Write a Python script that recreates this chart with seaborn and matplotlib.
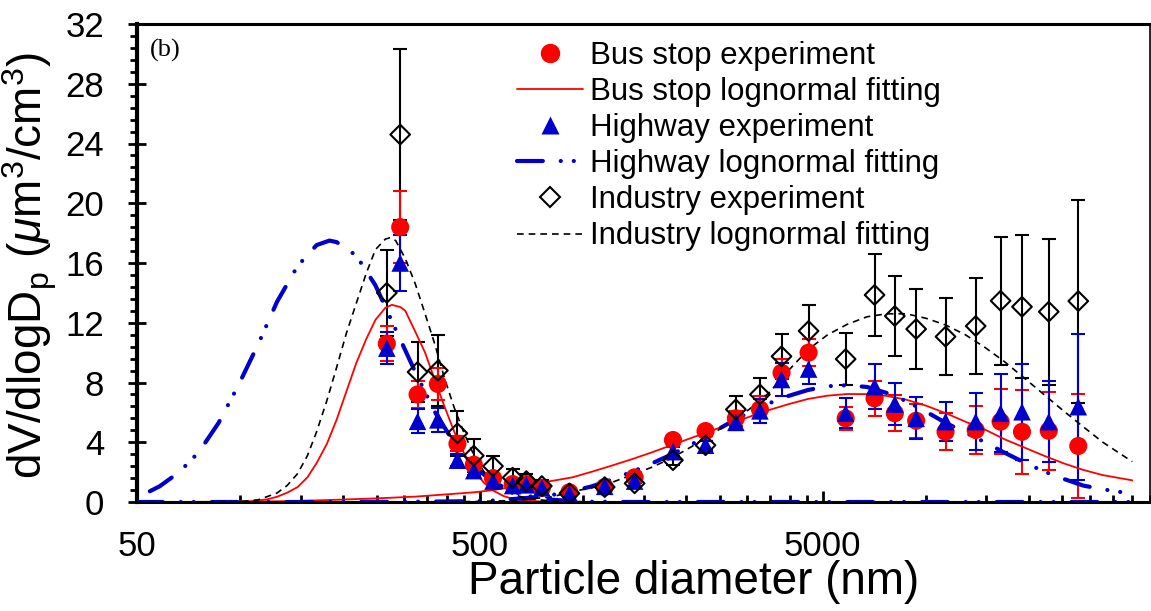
import numpy as np
import pandas as pd
import matplotlib
matplotlib.use("Agg")
import matplotlib.pyplot as plt
import seaborn as sns
from matplotlib.lines import Line2D
from matplotlib.ticker import NullFormatter

# ---------------- data ----------------
diam = [267.6, 292.8, 329, 377, 430, 480, 546, 623, 683, 758, 912, 1156, 1413,
        1828, 2275, 2789, 3278, 3790, 4545, 5830, 7079, 8110, 9360, 11400,
        13960, 16500, 19050, 22800, 27800]

bus = [10.6, 18.4, 7.2, 7.9, 3.9, 2.5, 1.6, 1.2, 1.2, 0.95, 0.65, 1.0, 1.65,
       4.15, 4.75, 5.6, 6.2, 8.65, 10.0, 5.6, 6.94, 5.94, 5.44, 4.7, 4.82,
       5.38, 4.7, 4.77, 3.75]
bus_err = [1.15, 2.4, 0.9, 1.1, 0.5, 0.4, 0.3, 0.25, 0.2, 0.2, 0.15, 0.15, 0.2,
           0.3, 0.3, 0.5, 0.9, 0.9, 0.9, 0.76, 1.15, 1.2, 1.15, 1.25, 1.6,
           2.2, 2.8, 2.6, 3.5]

hw = [10.3, 16.0, 5.4, 5.5, 2.8, 2.1, 1.4, 1.1, 1.15, 0.95, 0.55, 1.05, 1.4,
      3.37, 3.8, 5.33, 6.1, 8.2, 8.9, 5.94, 7.72, 6.56, 5.6, 5.38, 5.38,
      5.94, 6.04, 5.38, 6.38]
hw_err = [1.05, 1.9, 0.8, 0.8, 0.4, 0.3, 0.25, 0.2, 0.2, 0.15, 0.1, 0.1, 0.15,
          0.3, 0.3, 0.5, 0.8, 1.1, 1.0, 1.0, 1.5, 1.4, 1.4, 1.3, 1.9,
          2.6, 3.2, 2.7, 4.9]

ind = [14.0, 24.6, 8.7, 8.8, 4.6, 3.1, 2.4, 1.63, 1.4, 1.07, 0.58, 1.0, 1.25,
       2.8, 3.8, 6.2, 7.2, 9.75, 11.45, 9.57, 13.86, 12.45, 11.58, 11.07, 11.78,
       13.47, 13.07, 12.74, 13.45]
ind_err = [2.9, 5.7, 2.0, 2.4, 1.5, 1.1, 0.65, 0.58, 0.5, 0.4, 0.2, 0.2, 0.3,
           0.3, 0.3, 0.9, 1.07, 1.5, 1.75, 1.75, 2.75, 2.7, 2.7, 2.6, 3.2,
           4.3, 4.8, 4.9, 6.8]

# lognormal fitting curves (fine and coarse modes)
rf_x = [50, 98.7, 107, 120, 128, 137, 147, 157, 167, 179, 191, 204, 218, 233, 248,
        265, 277, 293, 303, 324, 346, 369, 394, 421, 450, 481, 513, 548, 586, 626,
        669, 763, 1061, 40000]
rf_y = [0, 0, 0.05, 0.18, 0.35, 0.62, 1.0, 1.65, 2.6, 3.9, 5.5, 7.4, 9.3, 10.9, 12.2,
        13.0, 13.2, 13.05, 12.8, 11.4, 10.0, 8.2, 6.4, 4.7, 3.25, 2.1, 1.3, 0.75, 0.4,
        0.2, 0.1, 0.03, 0, 0]
rc_x = [50, 75.8, 113, 147, 191, 248, 324, 421, 481, 548, 626, 714, 815, 930, 1061,
        1210, 1381, 1576, 1798, 2052, 2342, 2672, 3049, 3479, 3970, 4529, 5168, 5897,
        6729, 7678, 8762, 9998, 11407, 13016, 14853, 16947, 19338, 22066, 25178,
        28730, 32782, 39950]
rc_y = [0, 0.01, 0.03, 0.07, 0.15, 0.24, 0.36, 0.55, 0.65, 0.8, 1.02, 1.22, 1.42, 1.65,
        2.03, 2.43, 2.85, 3.3, 3.78, 4.26, 4.74, 5.2, 5.7, 6.15, 6.55, 6.9, 7.12, 7.23,
        7.22, 7.1, 6.85, 6.45, 5.95, 5.38, 4.85, 4.2, 3.65, 3.1, 2.59, 2.15, 1.8, 1.45]

hf_x = [54.5, 58.2, 66.4, 75.8, 86.5, 98.7, 113, 128, 147, 167, 182, 191, 218,
        248, 284, 324, 369, 421, 481, 548, 626, 714, 815, 930, 1061, 1381, 40000]
hf_y = [0.72, 1.05, 2.0, 3.35, 5.3, 7.8, 10.6, 13.4, 15.8, 17.2, 17.5, 17.4, 16.5,
        14.5, 11.55, 8.7, 6.05, 3.95, 2.37, 1.32, 0.69, 0.33, 0.15, 0.06, 0.02, 0, 0]
hc_x = [50, 147, 284, 421, 548, 714, 815, 930, 1061, 1210, 1381, 1576, 1798, 2052,
        2342, 2672, 3049, 3479, 3970, 4529, 5168, 5897, 6729, 7678, 8762, 9998, 11407,
        13016, 14853, 16947, 19338, 22066, 25178, 28730, 32782, 39950]
hc_y = [0, 0, 0.01, 0.04, 0.1, 0.3, 0.48, 0.72, 1.05, 1.5, 2.0, 2.55, 3.15, 3.8, 4.55,
        5.3, 6.0, 6.6, 7.1, 7.5, 7.75, 7.82, 7.7, 7.3, 6.75, 6.05, 5.3, 4.65, 4.0, 3.3,
        2.65, 2.05, 1.55, 1.1, 0.85, 0.55]

if_x = [50, 98.7, 113, 128, 137, 147, 157, 167, 179, 191, 204, 218, 233, 248, 265,
        274, 284, 303, 324, 346, 369, 394, 421, 450, 481, 513, 548, 586, 626, 692,
        815, 1061, 40000]
if_y = [0, 0.02, 0.15, 0.6, 1.1, 1.9, 3.1, 4.7, 6.8, 9.0, 11.3, 13.3, 15.3, 16.9, 17.6,
        17.7, 17.5, 16.3, 14.6, 12.6, 10.6, 8.3, 6.3, 4.6, 3.1, 2.05, 1.35, 0.85, 0.5,
        0.22, 0.06, 0.01, 0]
ic_x = [50, 284, 481, 626, 815, 930, 1061, 1210, 1381, 1576, 1798, 2052, 2342, 2672,
        3049, 3479, 3970, 4529, 5168, 5897, 6729, 7678, 8762, 9998, 11407, 13016,
        14853, 16947, 19338, 22066, 25178, 28730, 32782, 39950]
ic_y = [0, 0, 0.03, 0.1, 0.35, 0.7, 0.95, 1.3, 1.8, 2.3, 2.9, 3.65, 4.45, 5.3, 6.2,
        7.3, 8.8, 10.2, 11.2, 11.9, 12.4, 12.6, 12.6, 12.3, 11.85, 11.2, 10.35, 9.39,
        8.3, 7.2, 6.1, 5.04, 4.0, 2.7]

legend_labels = ["Bus stop experiment", "Bus stop lognormal fitting",
                 "Highway experiment", "Highway lognormal fitting",
                 "Industry experiment", "Industry lognormal fitting"]
x_major = [50, 500, 5000]
x_major_labels = ["50", "500", "5000"]
y_major = [0, 4, 8, 12, 16, 20, 24, 28, 32]

# ---------------- style ----------------
sns.set_theme(style="white")
plt.rcParams["font.family"] = ["Liberation Sans", "DejaVu Sans"]
plt.rcParams["mathtext.fontset"] = "custom"
plt.rcParams["mathtext.rm"] = "Liberation Sans"
plt.rcParams["mathtext.it"] = "Liberation Sans:italic"
plt.rcParams["mathtext.bf"] = "Liberation Sans:bold"
for key in ["text.color", "axes.labelcolor", "xtick.color", "ytick.color",
            "axes.edgecolor"]:
    plt.rcParams[key] = "black"

RED = "#FF0000"
BLUE = "#0000CC"
BLACK = "#000000"
HW_DASH = (0, (6.2, 4.3, 0.02, 3.1, 0.02, 4.3))
IND_DASH = (0, (4.0, 3.0))

W, H = 1151, 611
fig = plt.figure(figsize=(W / 100, H / 100), dpi=100)
L, R, T, B = 137, 1150, 24, 502
ax = fig.add_axes([L / W, 1 - B / H, (R - L) / W, (B - T) / H])
ax.set_xscale("log")

df = pd.DataFrame({"d": diam, "bus": bus, "bus_err": bus_err, "hw": hw,
                   "hw_err": hw_err, "ind": ind, "ind_err": ind_err})

# error bars
eb = dict(fmt="none", elinewidth=1.5, capsize=5, capthick=1.5)
ax.errorbar(df["d"], df["ind"], yerr=df["ind_err"], ecolor=BLACK, zorder=2.0, **eb)
ax.errorbar(df["d"], df["bus"], yerr=df["bus_err"], ecolor=RED, zorder=2.1, **eb)
ax.errorbar(df["d"], df["hw"], yerr=df["hw_err"], ecolor=BLUE, zorder=2.2, **eb)

# fitting curves
sns.lineplot(x=rf_x, y=rf_y, ax=ax, color=RED, lw=1.3, zorder=2.5)
sns.lineplot(x=rc_x, y=rc_y, ax=ax, color=RED, lw=1.3, zorder=2.5)
for xs, ys in [(hf_x, hf_y), (hc_x, hc_y)]:
    sns.lineplot(x=xs, y=ys, ax=ax, color=BLUE, lw=3.0, linestyle=HW_DASH,
                 dash_capstyle="round", zorder=2.6)
for xs, ys in [(if_x, if_y), (ic_x, ic_y)]:
    sns.lineplot(x=xs, y=ys, ax=ax, color=BLACK, lw=1.2, linestyle=IND_DASH,
                 zorder=2.7)

# experimental points
sns.scatterplot(data=df, x="d", y="bus", ax=ax, marker="o", s=170, color=RED,
                edgecolor="none", linewidth=0, zorder=3.0)
sns.scatterplot(data=df, x="d", y="hw", ax=ax, marker="^", s=160, color=BLUE,
                edgecolor="none", linewidth=0, zorder=3.1)
sns.scatterplot(data=df, x="d", y="ind", ax=ax, marker="D", s=100,
                facecolors="none", edgecolor=BLACK, linewidth=1.5, zorder=3.2)

# axes
ax.set_xlim(50, 40000)
ax.set_ylim(0, 32)
ax.set_xticks(x_major, labels=x_major_labels)
minor_x = [m * 10 ** k for k in (1, 2, 3) for m in (10, 15, 20, 25, 30, 35, 40, 45)]
ax.set_xticks(minor_x, minor=True)
ax.xaxis.set_minor_formatter(NullFormatter())
ax.set_yticks(y_major, labels=[str(v) for v in y_major])
ax.set_yticks(np.arange(0, 32.01, 0.8), minor=True)

ax.tick_params(axis="x", which="major", direction="in", length=8, width=2,
               labelsize=25, pad=20, colors="black", bottom=True, top=False)
ax.tick_params(axis="x", which="minor", direction="in", length=5, width=2,
               colors="black", bottom=True, top=False)
ax.tick_params(axis="y", which="major", direction="inout", length=13, width=2,
               labelsize=25, pad=17, colors="black", left=True, right=False)
ax.tick_params(axis="y", which="minor", direction="out", length=5, width=2,
               colors="black", left=True, right=False)

for side, lw in [("left", 3.0), ("bottom", 2.2), ("top", 2.2), ("right", 1.2)]:
    ax.spines[side].set_visible(True)
    ax.spines[side].set_color("black")
    ax.spines[side].set_linewidth(lw)

ax.set_xlabel("Particle diameter (nm)", fontsize=33, color="black")
ax.xaxis.set_label_coords((694 - L) / (R - L), -(560 - B) / (B - T))
ax.set_ylabel(r"dV/dlogD$_\mathregular{p}$ ($\mu$m$^\mathregular{3}$/cm$^\mathregular{3}$)",
              fontsize=33, color="black")
ax.yaxis.set_label_coords((59 - L) / (R - L), (B - 265) / (B - T))

ax.text((150 - L) / (R - L), (B - 50) / (B - T), "(b)", family="Liberation Serif",
        fontsize=19, va="center", ha="left", transform=ax.transAxes, color="black")

handles = [
    Line2D([], [], marker="o", ls="none", color=RED, ms=14, mec="none"),
    Line2D([], [], color=RED, lw=1.3),
    Line2D([], [], marker="^", ls="none", color=BLUE, ms=12.5, mec="none"),
    Line2D([], [], color=BLUE, lw=3.0, ls=HW_DASH, dash_capstyle="round"),
    Line2D([], [], marker="D", ls="none", mfc="none", mec=BLACK, mew=1.5, ms=10),
    Line2D([], [], color=BLACK, lw=1.2, ls=IND_DASH),
]
leg = ax.legend(handles, legend_labels, loc="upper left",
                bbox_to_anchor=((517 - L) / (R - L), (B - 41) / (B - T)),
                frameon=False, fontsize=22.5, borderpad=0, borderaxespad=0,
                handlelength=2.1, handletextpad=0.25, labelspacing=0.195)
for t in leg.get_texts():
    t.set_color("black")

fig.savefig("out.png", dpi=100)
